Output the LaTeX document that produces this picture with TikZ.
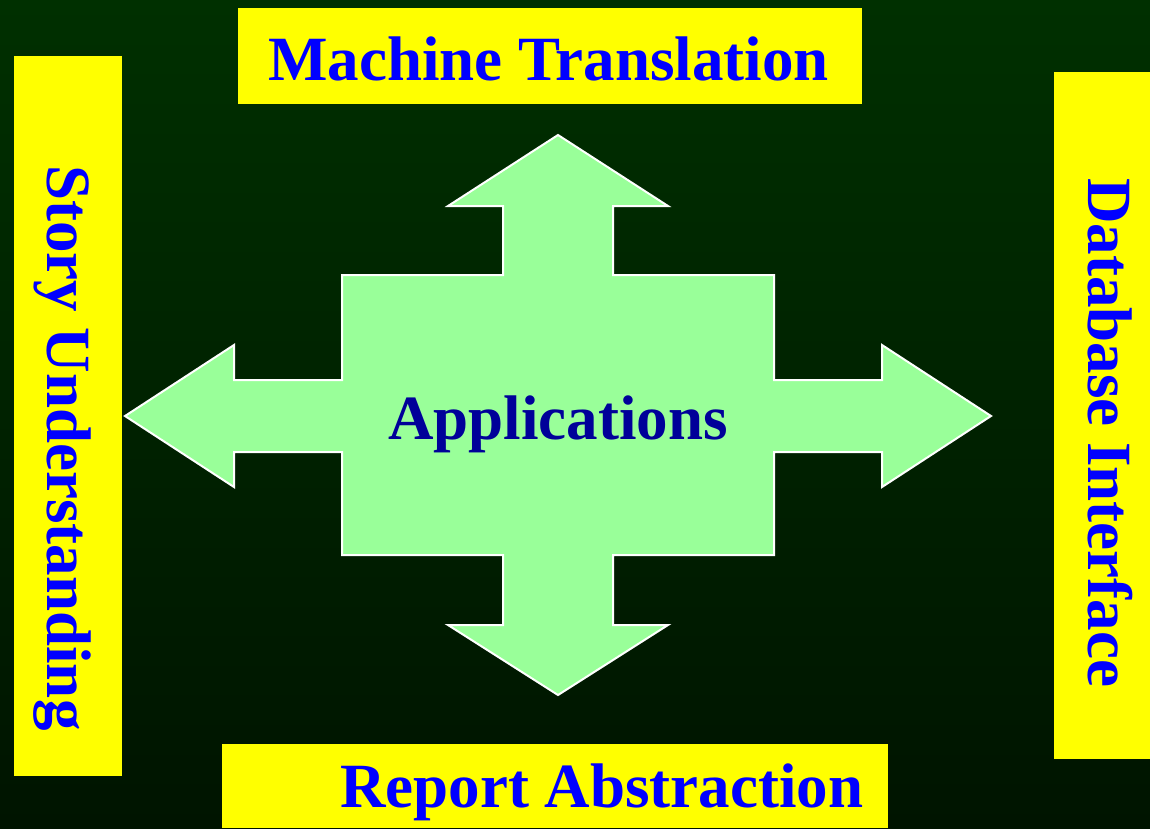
\documentclass[tikz,border=0pt]{standalone}
\usepackage{fontspec}
\setmainfont{Liberation Serif}
\definecolor{bgtop}{RGB}{0,48,0}
\definecolor{bgbot}{RGB}{0,20,0}
\definecolor{boardyellow}{RGB}{255,255,0}
\definecolor{boardblue}{RGB}{0,0,255}
\definecolor{arrowgreen}{RGB}{153,255,153}
\definecolor{appblue}{RGB}{0,0,153}
\begin{document}
\begin{tikzpicture}[x=1pt,y=-1pt,
    boxtext/.style={font=\fontsize{63}{70}\selectfont\bfseries, text=boardblue, inner sep=0pt, anchor=base west},
    apptext/.style={boxtext, text=appblue},
    board/.style={fill=boardyellow}]
      \shade[top color=bgtop, bottom color=bgbot] (0,0) rectangle (1150,828);
      \useasboundingbox (0,0) rectangle (1150,828);

      % yellow boards
      \fill[board] (238,8) rectangle (862,104);
      \fill[board] (14,56) rectangle (122,776);
      \fill[board] (1054,72) rectangle (1150,759);
      \fill[board] (222,744) rectangle (888,828);

      % tips of the cross
      \coordinate (N) at (558,135);
      \coordinate (S) at (558,695);
      \coordinate (W) at (125,416);
      \coordinate (E) at (991,416);

      \draw[fill=arrowgreen, draw=white, line width=2pt, line join=miter]
        (N) -- (668,206) -- (613,206) -- (613,275) -- (774,275) -- (774,380)
        -- (882,380) -- (882,345) -- (E) -- (882,487) -- (882,452) -- (774,452)
        -- (774,555) -- (613,555) -- (613,625) -- (668,625) -- (S) -- (448,625)
        -- (503,625) -- (503,555) -- (342,555) -- (342,452) -- (234,452)
        -- (234,487) -- (W) -- (234,345) -- (234,380) -- (342,380) -- (342,275)
        -- (503,275) -- (503,206) -- (448,206) -- cycle;

      \node[apptext] (app) at (388,439) {Applications};

      \node[boxtext] (mt) at (268,80) {Machine Translation};
      \node[boxtext] (ra) at (340,807) {Report Abstraction};
      \node[boxtext, rotate=-90] (su) at (47,165) {Story Understanding};
      \node[boxtext, rotate=-90] (di) at (1088,178) {Database Interface};

    \end{tikzpicture}
\end{document}
